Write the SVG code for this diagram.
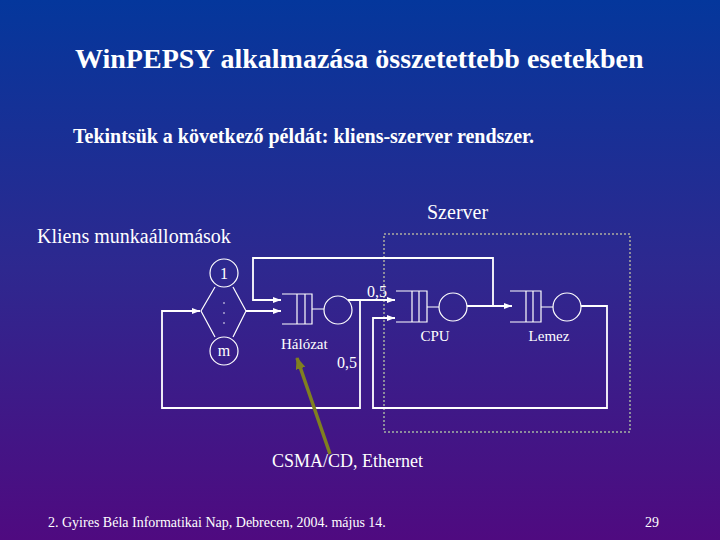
<svg xmlns="http://www.w3.org/2000/svg" width="720" height="540" viewBox="0 0 720 540">
<defs>
<linearGradient id="bg" x1="0" y1="0" x2="0" y2="1">
<stop offset="0" stop-color="#04379c"/>
<stop offset="0.5" stop-color="#2e288f"/>
<stop offset="1" stop-color="#4f0a80"/>
</linearGradient>
<marker id="ah" markerWidth="8" markerHeight="6" refX="8" refY="3" orient="auto" markerUnits="userSpaceOnUse">
<path d="M0,0 L8,3 L0,6 Z" fill="#ffffff"/>
</marker>
<marker id="oh" markerWidth="12" markerHeight="10" refX="11" refY="5" orient="auto" markerUnits="userSpaceOnUse">
<path d="M0,0 L12,5 L0,10 Z" fill="#80801f"/>
</marker>
<style>
.t{font-family:"Liberation Serif","Times New Roman",serif;fill:#ffffff}
.b{font-weight:bold}
.shape{fill:none;stroke:#ffffff;stroke-width:1.2}
.conn{fill:none;stroke:#ffffff;stroke-width:1.8}
.arr{marker-end:url(#ah)}
</style>
</defs>
<rect x="0" y="0" width="720" height="540" fill="url(#bg)"/>

<text class="t b" x="75" y="68" font-size="28">WinPEPSY alkalmazása összetettebb esetekben</text>
<text class="t b" x="73" y="143" font-size="20">Tekintsük a következő példát: kliens-szerver rendszer.</text>

<g id="server-box">
<rect x="384" y="234" width="246" height="198" fill="none" stroke="#8c8c9c" stroke-width="2" stroke-dasharray="2 2"/>
<text class="t" x="427" y="219" font-size="20">Szerver</text>
</g>

<g id="clients">
<text class="t" x="37" y="243" font-size="20">Kliens munkaállomások</text>
<circle class="shape" cx="224" cy="273" r="14"/>
<text class="t" x="224" y="279" font-size="16" text-anchor="middle">1</text>
<circle class="shape" cx="224" cy="351" r="14"/>
<text class="t" x="224" y="356" font-size="16" text-anchor="middle">m</text>
<path class="shape" d="M215,287 L201,311 L215,337 M233,287 L246,311 L233,337"/>
<circle cx="224" cy="303" r="0.8" fill="#ffffff"/>
<circle cx="224" cy="313" r="0.8" fill="#ffffff"/>
<circle cx="224" cy="323" r="0.8" fill="#ffffff"/>
</g>

<g id="halozat">
<path class="shape" d="M282,294 H312 V324 H282 M297,294 V324 M305,294 V324 M312,309 H324"/>
<circle class="shape" cx="338" cy="310" r="14"/>
<text class="t" x="281" y="349" font-size="15">Hálózat</text>
</g>

<g id="cpu">
<path class="shape" d="M396,291 H427 V322 H396 M412,291 V322 M419,291 V322 M427,307 H439"/>
<circle class="shape" cx="453" cy="307" r="14"/>
<text class="t" x="435" y="341" font-size="15" text-anchor="middle">CPU</text>
</g>

<g id="lemez">
<path class="shape" d="M510,291 H541 V322 H510 M526,291 V322 M533,291 V322 M541,307 H553"/>
<circle class="shape" cx="567" cy="307" r="14"/>
<text class="t" x="549" y="341" font-size="15" text-anchor="middle">Lemez</text>
</g>

<g id="connectors">
<path class="conn arr" d="M360,300 V408 H162 V311 H200"/>
<path class="conn arr" d="M246,311 H281"/>
<path class="conn arr" d="M493,306 V258 H253 V300 H281"/>
<path class="conn arr" d="M348,300 H395"/>
<path class="conn arr" d="M581,306 H607 V408 H373 V318 H395"/>
<path class="conn arr" d="M467,306 H512"/>
<text class="t" x="367" y="297" font-size="16">0,5</text>
<text class="t" x="357" y="368" font-size="16" text-anchor="end">0,5</text>
<line x1="330" y1="454" x2="297" y2="358" stroke="#80801f" stroke-width="3.5" marker-end="url(#oh)"/>
</g>

<text class="t" x="272" y="467" font-size="18">CSMA/CD, Ethernet</text>
<text class="t" x="48" y="527" font-size="14">2. Gyires Béla Informatikai Nap, Debrecen, 2004. május 14.</text>
<text class="t" x="645" y="527" font-size="14">29</text>
</svg>
